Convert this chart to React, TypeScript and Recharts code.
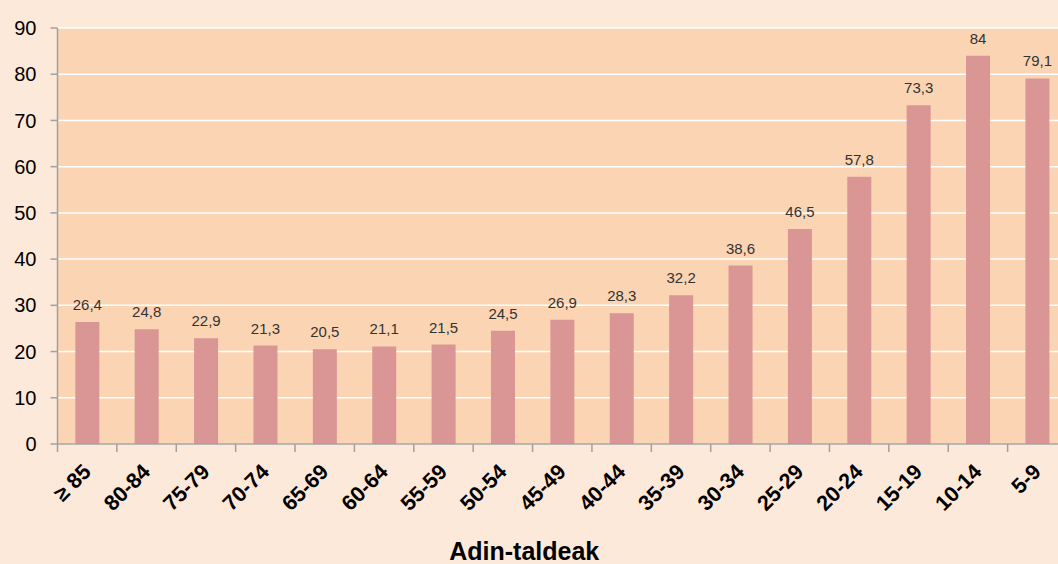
import React from "react";
import {
  BarChart,
  Bar,
  XAxis,
  YAxis,
  CartesianGrid,
  LabelList,
} from "recharts";

const ageGroups: string[] = [
  "≥ 85", "80-84", "75-79", "70-74", "65-69", "60-64", "55-59", "50-54",
  "45-49", "40-44", "35-39", "30-34", "25-29", "20-24", "15-19", "10-14", "5-9",
];

const rates: number[] = [
  26.4, 24.8, 22.9, 21.3, 20.5, 21.1, 21.5, 24.5,
  26.9, 28.3, 32.2, 38.6, 46.5, 57.8, 73.3, 84, 79.1,
];

const yTicks: number[] = [0, 10, 20, 30, 40, 50, 60, 70, 80, 90];

const data = ageGroups.map((group, i) => ({ group, rate: rates[i] }));

const WIDTH = 1075;
const HEIGHT = 564;
const MARGIN = { top: 28, right: 8, left: 7.5, bottom: 0 };
const Y_AXIS_W = 50;
const FONT = '"Liberation Sans", Arial, sans-serif';
const BAND = (WIDTH - MARGIN.left - MARGIN.right - Y_AXIS_W) / ageGroups.length;

const fmt = (v: number) => String(v).replace(".", ",");

const AgeTick = (props: any) => {
  const { x, y, payload } = props;
  const bx = x - BAND / 2;
  return (
    <g>
      <line x1={bx} y1={y} x2={bx} y2={y + 8} stroke="#A0A0A0" strokeWidth={1.5} />
      <g transform={`translate(${x + 5},${y + 29}) rotate(-45)`}>
        <text
          textAnchor="end"
          fontFamily={FONT}
          fontWeight="bold"
          fontSize={21.5}
          fill="#000"
        >
          {payload.value}
        </text>
      </g>
    </g>
  );
};

export default function App() {
  return (
    <div
      style={{
        position: "absolute",
        left: 0,
        top: 0,
        width: 1058,
        height: 564,
        overflow: "hidden",
        background: "#FDE9D9",
      }}
    >
      <BarChart
        width={WIDTH}
        height={HEIGHT}
        data={data}
        margin={MARGIN}
        barCategoryGap="30%"
      >
        <CartesianGrid
          vertical={false}
          stroke="#FFFFFF"
          strokeWidth={1.5}
          fill="#FBD4B4"
          fillOpacity={1}
        />
        <XAxis
          dataKey="group"
          height={120}
          interval={0}
          tickLine={false}
          tickSize={0}
          tickMargin={0}
          stroke="#A0A0A0"
          strokeWidth={1.5}
          tick={<AgeTick />}
          label={{
            value: "Adin-taldeak",
            position: "insideBottom",
            offset: 4,
            dx: -38,
            fontFamily: FONT,
            fontWeight: "bold",
            fontSize: 25,
            fill: "#000",
          }}
        />
        <YAxis
          width={Y_AXIS_W}
          domain={[0, 90]}
          ticks={yTicks}
          interval={0}
          tickSize={7}
          tickMargin={14}
          stroke="#A0A0A0"
          strokeWidth={1.5}
          tick={{ fontFamily: FONT, fontSize: 20, fill: "#000" }}
        />
        <Bar dataKey="rate" fill="#D99694" isAnimationActive={false}>
          <LabelList
            dataKey="rate"
            position="top"
            offset={12}
            formatter={(v: any) => fmt(Number(v))}
            style={{ fontFamily: FONT, fontSize: 15, fill: "#333333" }}
          />
        </Bar>
      </BarChart>
    </div>
  );
}
